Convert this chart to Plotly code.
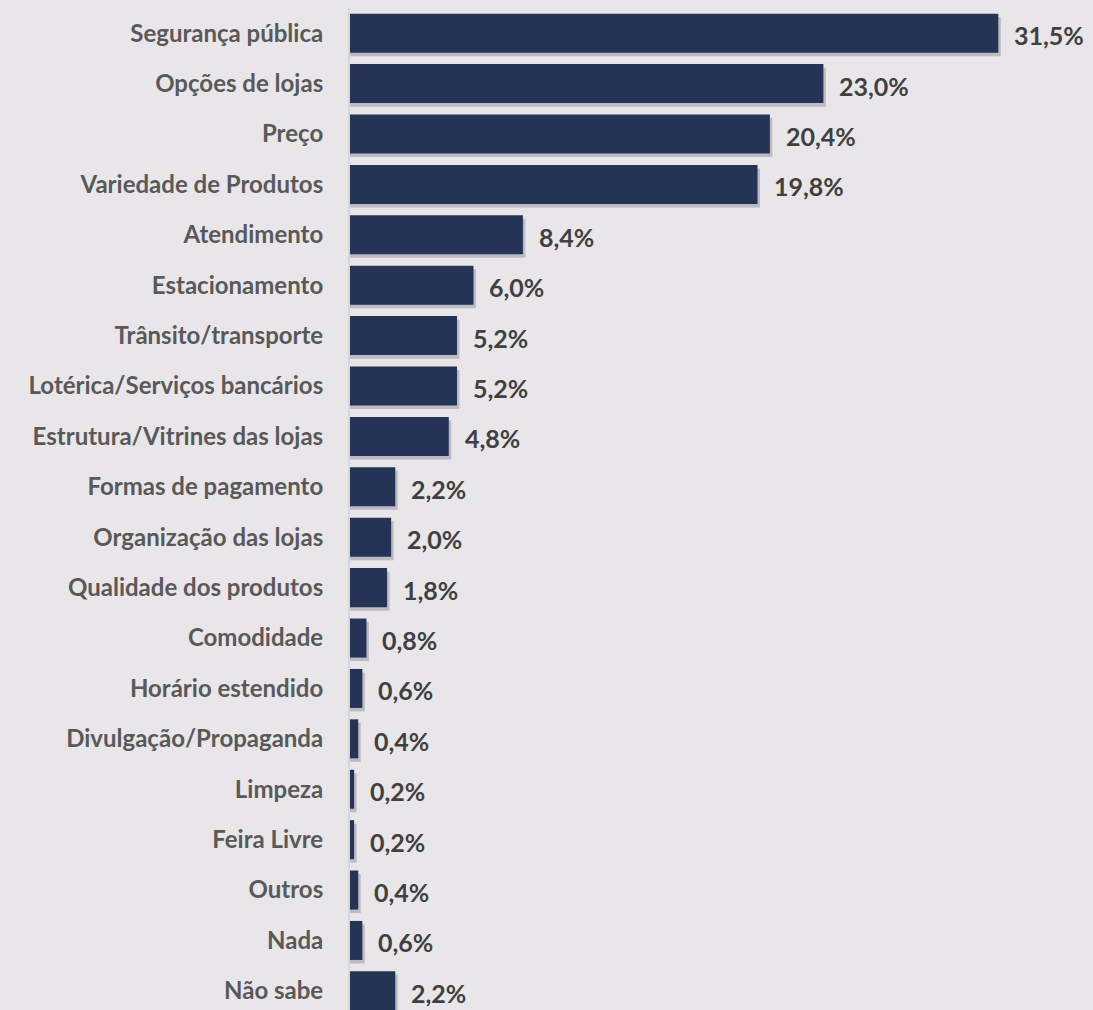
import plotly.graph_objects as go

categories = ["Segurança pública", "Opções de lojas", "Preço", "Variedade de Produtos",
              "Atendimento", "Estacionamento", "Trânsito/transporte",
              "Lotérica/Serviços bancários", "Estrutura/Vitrines das lojas",
              "Formas de pagamento", "Organização das lojas", "Qualidade dos produtos",
              "Comodidade", "Horário estendido", "Divulgação/Propaganda", "Limpeza",
              "Feira Livre", "Outros", "Nada", "Não sabe"]
values = [31.5, 23.0, 20.4, 19.8, 8.4, 6.0, 5.2, 5.2, 4.8, 2.2, 2.0, 1.8,
          0.8, 0.6, 0.4, 0.2, 0.2, 0.4, 0.6, 2.2]
value_labels = [f"{v:.1f}%".replace(".", ",") for v in values]

BAR = "#243356"
BG = "#e8e6e9"
W = 0.774

fig = go.Figure()
# soft drop shadow
fig.add_trace(go.Bar(
    y=categories, x=[v + 0.12 for v in values], orientation="h",
    width=W, offset=-W / 2 + 0.07,
    marker=dict(color="rgba(90,90,100,0.3)", line=dict(width=0)),
    hoverinfo="skip", showlegend=False))
fig.add_trace(go.Bar(
    y=categories, x=values, orientation="h",
    width=W, offset=-W / 2,
    marker=dict(color=BAR, line=dict(width=0)),
    showlegend=False))

for c, v, t in zip(categories, values, value_labels):
    fig.add_annotation(x=v, y=c, text=t, showarrow=False, xanchor="left",
                       xshift=14, yshift=-2,
                       font=dict(family="Lato", size=25, color="#404040", weight="bold"))

fig.update_layout(
    width=1093, height=1010,
    margin=dict(l=350, r=0, t=8, b=0),
    paper_bgcolor=BG, plot_bgcolor=BG,
    barmode="overlay",
    xaxis=dict(range=[0, 36.1], visible=False),
    yaxis=dict(range=[19.38, -0.5], showline=True, linecolor="#d8d6da", linewidth=2,
               ticks="", ticklabelstandoff=20, showgrid=False,
               tickfont=dict(family="Lato", size=24, color="#595959", weight="bold")),
)

fig.write_html("out.html", config={"displayModeBar": False},
               post_script="document.body.style.margin='0';")
